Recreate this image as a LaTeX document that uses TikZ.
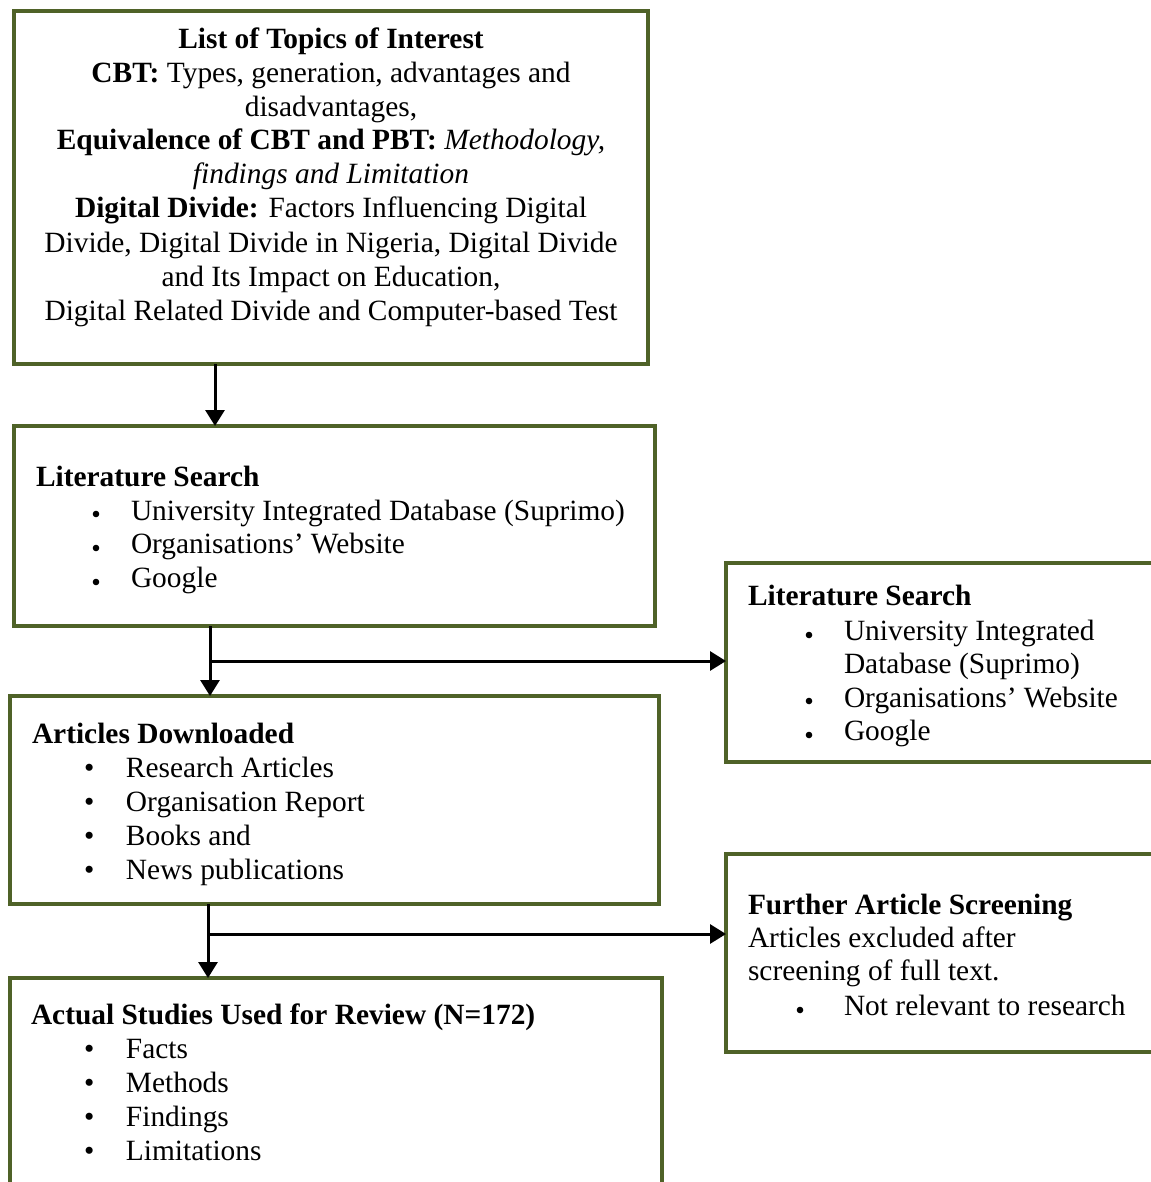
\documentclass[tikz,border=0pt]{standalone}
\usepackage{fontspec}
\setmainfont{Liberation Serif}
\usetikzlibrary{arrows.meta,calc}
\definecolor{boxgreen}{RGB}{79,98,40}
\tikzset{
  box/.style={draw=boxgreen, line width=4pt, rectangle, outer sep=0pt, inner sep=0pt, anchor=north west},
  txt/.style={inner sep=0pt, outer sep=0pt, anchor=base west, font=\fontsize{29.4}{34}\selectfont},
  ctxt/.style={txt, anchor=base},
  arr/.style={draw=black, line width=3pt, -{Triangle[width=19pt,length=16pt]}},
  dot/.style={fill=black}
}
\newcommand\bbul[1]{\makebox[#1][l]{\textbullet}}
\begin{document}
\begin{tikzpicture}[x=1pt,y=-1pt]
\useasboundingbox (0,0) rectangle (1150,1182);
% boxes
\node[box, minimum width=634pt, minimum height=353pt] (b1) at (14,11) {};
\node[box, minimum width=641pt, minimum height=200pt] (b2) at (14,426) {};
\node[box, minimum width=649pt, minimum height=208pt] (b3) at (10,696) {};
\node[box, minimum width=652pt, minimum height=230pt] (b4) at (10,978) {};
\node[box, minimum width=440pt, minimum height=199pt] (r1) at (726,563) {};
\node[box, minimum width=440pt, minimum height=198pt] (r2) at (726,854) {};
% box 1 text
\node[ctxt] (t1a) at (331,49) {\textbf{List of Topics of Interest}};
\node[ctxt] (t1b) at (331,83) {\textbf{CBT:} Types, generation, advantages and};
\node[ctxt] (t1c) at (331,117) {disadvantages,};
\node[ctxt] (t1d) at (331,150) {\textbf{Equivalence of CBT and PBT:} \textit{Methodology,}};
\node[ctxt] (t1e) at (331,184) {\textit{findings and Limitation}};
\node[ctxt] (t1f) at (331,218) {\textbf{Digital Divide:} Factors Influencing Digital};
\node[ctxt] (t1g) at (331,252) {Divide, Digital Divide in Nigeria, Digital Divide};
\node[ctxt] (t1h) at (331,286) {and Its Impact on Education,};
\node[ctxt] (t1i) at (331,320) {Digital Related Divide and Computer-based Test};
% box 2 text
\node[txt] (t2a) at (36,486) {\textbf{Literature Search}};
\fill[dot] (96,514) circle[radius=3.3];
\node[txt] (t2b) at (131,520) {University Integrated Database (Suprimo)};
\fill[dot] (96,548) circle[radius=3.3];
\node[txt] (t2c) at (131,553) {Organisations’ Website};
\fill[dot] (96,582) circle[radius=3.3];
\node[txt] (t2d) at (131,587) {Google};
% box 3 text
\node[txt] (t3a) at (32,743) {\textbf{Articles Downloaded}};
\node[txt] (t3b) at (84,777) {\bbul{42pt}Research Articles};
\node[txt] (t3c) at (84,811) {\bbul{42pt}Organisation Report};
\node[txt] (t3d) at (84,845) {\bbul{42pt}Books and};
\node[txt] (t3e) at (84,879) {\bbul{42pt}News publications};
% box 4 text
\node[txt] (t4a) at (31,1024) {\textbf{Actual Studies Used for Review (N=172)}};
\node[txt] (t4b) at (84,1058) {\bbul{42pt}Facts};
\node[txt] (t4c) at (84,1092) {\bbul{42pt}Methods};
\node[txt] (t4d) at (84,1126) {\bbul{42pt}Findings};
\node[txt] (t4e) at (84,1160) {\bbul{42pt}Limitations};
% right box 1 text
\node[txt] (u1a) at (748,605) {\textbf{Literature Search}};
\fill[dot] (809,635) circle[radius=3.3];
\node[txt] (u1b) at (844,640) {University Integrated};
\node[txt] (u1c) at (844,673) {Database (Suprimo)};
\fill[dot] (809,701) circle[radius=3.3];
\node[txt] (u1d) at (844,707) {Organisations’ Website};
\fill[dot] (809,735) circle[radius=3.3];
\node[txt] (u1e) at (844,740) {Google};
% right box 2 text
\node[txt] (u2a) at (748,914) {\textbf{Further Article Screening}};
\node[txt] (u2b) at (748,947) {Articles excluded after};
\node[txt] (u2c) at (748,980) {screening of full text.};
\fill[dot] (800,1010) circle[radius=3.3];
\node[txt] (u2d) at (844,1015) {Not relevant to research};
% connectors
\coordinate (c1) at ($(b1.south west)+(201,0)$);
\draw[arr] (c1) -- (c1 |- b2.north);
\coordinate (c2) at ($(b2.south west)+(196,0)$);
\draw[arr] (c2) -- (c2 |- b3.north);
\coordinate (j2) at ($(b2.south west)+(196,35)$);
\draw[arr] (j2) -- (j2 -| r1.west);
\coordinate (c3) at ($(b3.south west)+(198,0)$);
\draw[arr] (c3) -- (c3 |- b4.north);
\coordinate (j3) at ($(b3.south west)+(198,30)$);
\draw[arr] (j3) -- (j3 -| r2.west);
\end{tikzpicture}
\end{document}
